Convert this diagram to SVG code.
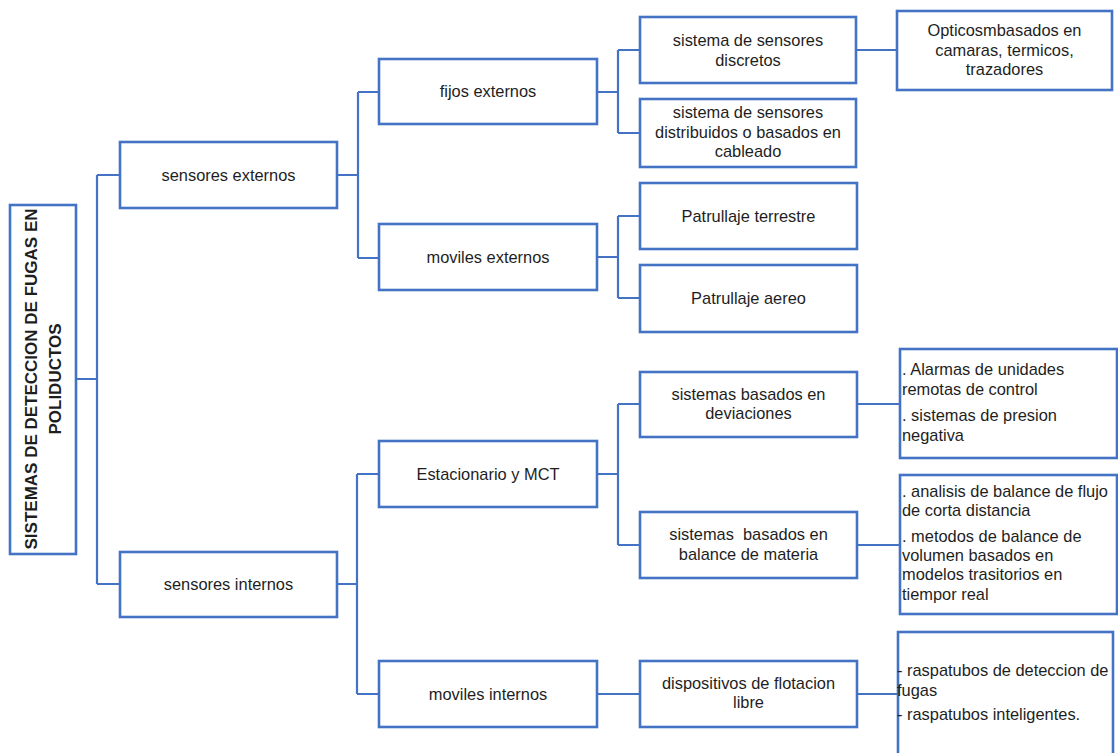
<svg xmlns="http://www.w3.org/2000/svg" width="1118" height="753" viewBox="0 0 1118 753">
<style>
.box{fill:#fff;stroke:#4472C4;stroke-width:2.6}
.conn{fill:none;stroke:#4472C4;stroke-width:2.2}
text{font-family:"Liberation Sans",Arial,sans-serif;font-size:16.4px;fill:#1e1e1e}
.c{text-anchor:middle}
.root{font-weight:bold;font-size:17px;text-anchor:middle}
</style>
<rect width="1118" height="753" fill="#fff"/>
<g id="connectors">
<path class="conn" d="M76,379H97M97,175V584M97,175H120M97,584H120"/>
<path class="conn" d="M337,175H358M358,92V258M358,92H379M358,258H379"/>
<path class="conn" d="M597,92H618M618,50V133M618,50H640M618,133H640"/>
<path class="conn" d="M856,50H897"/>
<path class="conn" d="M597,257H618M618,216V298M618,216H640M618,298H640"/>
<path class="conn" d="M337,584H357M357,474V694M357,474H379M357,694H379"/>
<path class="conn" d="M597,474H618M618,404V545M618,404H640M618,545H640"/>
<path class="conn" d="M857,404H900M857,545H900"/>
<path class="conn" d="M597,694H640M857,694H898"/>
</g>
<g id="root">
<rect class="box" x="10" y="205" width="66" height="349"/>
<text class="root" transform="translate(37,379) rotate(-90)">SISTEMAS DE DETECCION DE FUGAS EN</text>
<text class="root" transform="translate(61,379) rotate(-90)">POLIDUCTOS</text>
</g>
<g id="sensores-externos">
<rect class="box" x="120" y="142" width="217" height="66"/>
<text class="c" x="228.5" y="181">sensores externos</text>
</g>
<g id="sensores-internos">
<rect class="box" x="120" y="552" width="217" height="65"/>
<text class="c" x="228.5" y="590">sensores internos</text>
</g>
<g id="fijos-externos">
<rect class="box" x="379" y="59" width="218" height="65"/>
<text class="c" x="488" y="97">fijos externos</text>
</g>
<g id="moviles-externos">
<rect class="box" x="379" y="224" width="218" height="66"/>
<text class="c" x="488" y="263">moviles externos</text>
</g>
<g id="estacionario">
<rect class="box" x="379" y="441" width="218" height="66"/>
<text class="c" x="488" y="480">Estacionario y MCT</text>
</g>
<g id="moviles-internos">
<rect class="box" x="379" y="661" width="218" height="66"/>
<text class="c" x="488" y="700">moviles internos</text>
</g>
<g id="discretos">
<rect class="box" x="640" y="17" width="216" height="66"/>
<text class="c" x="748" y="46">sistema de sensores</text>
<text class="c" x="748" y="65.5">discretos</text>
</g>
<g id="distribuidos">
<rect class="box" x="640" y="99" width="216" height="68"/>
<text class="c" x="748" y="118">sistema de sensores</text>
<text class="c" x="748" y="137.5">distribuidos o basados en</text>
<text class="c" x="748" y="157">cableado</text>
</g>
<g id="opticos">
<rect class="box" x="897" y="11" width="215" height="79"/>
<text class="c" x="1004.5" y="36">Opticosmbasados en</text>
<text class="c" x="1004.5" y="55.5">camaras, termicos,</text>
<text class="c" x="1004.5" y="75">trazadores</text>
</g>
<g id="patrullaje-terrestre">
<rect class="box" x="640" y="183" width="217" height="66"/>
<text class="c" x="748.5" y="222">Patrullaje terrestre</text>
</g>
<g id="patrullaje-aereo">
<rect class="box" x="640" y="265" width="217" height="67"/>
<text class="c" x="748.5" y="304">Patrullaje aereo</text>
</g>
<g id="desviaciones">
<rect class="box" x="640" y="372" width="217" height="65"/>
<text class="c" x="748.5" y="399.5">sistemas basados en</text>
<text class="c" x="748.5" y="419">deviaciones</text>
</g>
<g id="balance">
<rect class="box" x="640" y="512" width="217" height="66"/>
<text class="c" x="748.5" y="540" xml:space="preserve">sistemas  basados en</text>
<text class="c" x="748.5" y="560">balance de materia</text>
</g>
<g id="dispositivos">
<rect class="box" x="640" y="661" width="217" height="66"/>
<text class="c" x="748.5" y="688.5">dispositivos de flotacion</text>
<text class="c" x="748.5" y="708">libre</text>
</g>
<g id="alarmas">
<rect class="box" x="900" y="349" width="217" height="109"/>
<text x="902" y="375">. Alarmas de unidades</text>
<text x="902" y="394.5">remotas de control</text>
<text x="902" y="421">. sistemas de presion</text>
<text x="902" y="440.5">negativa</text>
</g>
<g id="analisis">
<rect class="box" x="900" y="475" width="217" height="139"/>
<text x="902" y="497">. analisis de balance de flujo</text>
<text x="902" y="516">de corta distancia</text>
<text x="902" y="542">. metodos de balance de</text>
<text x="902" y="561">volumen basados en</text>
<text x="902" y="580">modelos trasitorios en</text>
<text x="902" y="600">tiempor real</text>
</g>
<g id="raspatubos">
<rect class="box" x="898" y="632" width="215" height="140"/>
<text x="897" y="676">- raspatubos de deteccion de</text>
<text x="897" y="695.5">fugas</text>
<text x="897" y="720">- raspatubos inteligentes.</text>
</g>
</svg>
